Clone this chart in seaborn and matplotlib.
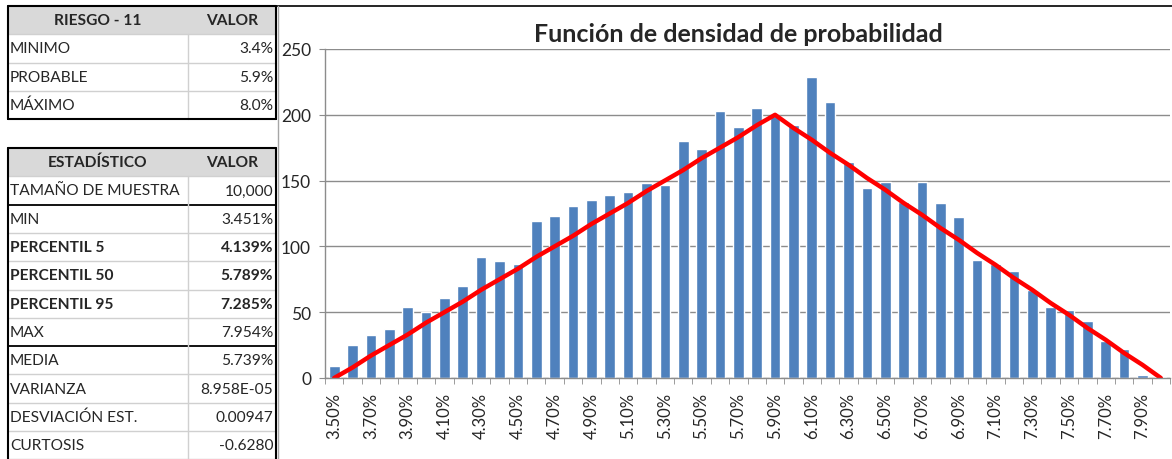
import numpy as np
import pandas as pd
import matplotlib
matplotlib.use("Agg")
import matplotlib.pyplot as plt
from matplotlib.lines import Line2D
from matplotlib.patches import Rectangle
import seaborn as sns

# histogram bins (percent) and simulated counts
bins = ["3.50%", "3.60%", "3.70%", "3.80%", "3.90%", "4.00%", "4.10%", "4.20%", "4.30%", "4.40%",
        "4.50%", "4.60%", "4.70%", "4.80%", "4.90%", "5.00%", "5.10%", "5.20%", "5.30%", "5.40%",
        "5.50%", "5.60%", "5.70%", "5.80%", "5.90%", "6.00%", "6.10%", "6.20%", "6.30%", "6.40%",
        "6.50%", "6.60%", "6.70%", "6.80%", "6.90%", "7.00%", "7.10%", "7.20%", "7.30%", "7.40%",
        "7.50%", "7.60%", "7.70%", "7.80%", "7.90%", "8.00%"]
counts = [9, 25, 33, 37, 54, 50, 61, 70, 92, 89,
          87, 119, 123, 131, 135, 139, 141, 148, 147, 180,
          174, 203, 191, 205, 199, 192, 229, 210, 164, 144,
          149, 134, 149, 133, 122, 90, 87, 81, 67, 54,
          52, 43, 28, 22, 2, 1]
# theoretical triangular curve
theory = [0, 8, 17, 25, 33, 42, 50, 58, 67, 75,
          83, 92, 100, 108, 117, 125, 133, 142, 150, 158,
          167, 175, 183, 192, 200, 190, 181, 171, 162, 152,
          143, 133, 124, 114, 105, 95, 86, 76, 67, 57,
          48, 38, 29, 19, 10, 0]

tbl1_head = ["RIESGO - 11", "VALOR"]
tbl1_rows = [("MINIMO", "3.4%"), ("PROBABLE", "5.9%"), ("MÁXIMO", "8.0%")]
tbl2_head = ["ESTADÍSTICO", "VALOR"]
tbl2_rows = [("TAMAÑO DE MUESTRA", "10,000"), ("MIN", "3.451%"), ("PERCENTIL 5", "4.139%"),
             ("PERCENTIL 50", "5.789%"), ("PERCENTIL 95", "7.285%"), ("MAX", "7.954%"),
             ("MEDIA", "5.739%"), ("VARIANZA", "8.958E-05"), ("DESVIACIÓN EST.", "0.00947"),
             ("CURTOSIS", "-0.6280")]
bold_rows = {"PERCENTIL 5", "PERCENTIL 50", "PERCENTIL 95"}

sns.set_style("white")
plt.rcParams["font.family"] = ["Lato", "DejaVu Sans"]

W, H = 1172, 460
fig = plt.figure(figsize=(W / 100, H / 100), dpi=100)

def fx(x):
    return x / W

def fy(y):
    return 1 - y / H

def hline(y, x0, x1, color, lw):
    fig.add_artist(Line2D([fx(x0), fx(x1)], [fy(y), fy(y)], color=color, lw=lw))

def vline(x, y0, y1, color, lw):
    fig.add_artist(Line2D([fx(x), fx(x)], [fy(y0), fy(y1)], color=color, lw=lw))

# ---- tables on the left
xl, xm, xr = 8, 188, 276
rh = 28.3
fs = 11.2

def draw_table(top, head, rows, black_after):
    # header
    fig.add_artist(Rectangle((fx(xl), fy(top + rh)), fx(xr - xl), rh / H, color="#d9d9d9", lw=0))
    fig.text(fx((xl + xm) / 2), fy(top + rh / 2), head[0], ha="center", va="center",
             fontsize=fs, fontweight="bold")
    fig.text(fx((xm + xr) / 2), fy(top + rh / 2), head[1], ha="center", va="center",
             fontsize=fs, fontweight="bold")
    y = top + rh
    for i, (lab, val) in enumerate(rows):
        w = "bold" if lab in bold_rows else "normal"
        fig.text(fx(xl + 2), fy(y + rh / 2), lab, ha="left", va="center", fontsize=fs, fontweight=w)
        fig.text(fx(xr - 3), fy(y + rh / 2), val, ha="right", va="center", fontsize=fs, fontweight=w)
        if i in black_after:
            hline(y + rh, xl, xr, "black", 1.3)
        else:
            hline(y + rh, xl, xr, "#d0d0d0", 1.0)
        y += rh
    vline(xm, top + rh, y, "#d0d0d0", 1.0)
    hline(top, xl, xr, "black", 1.5)
    hline(top + rh, xl, xr, "#d0d0d0", 1.0)
    vline(xl, top, y, "black", 1.5)
    vline(xr, top, y, "black", 1.5)
    return y

end1 = draw_table(7, tbl1_head, tbl1_rows, {2})
hline(end1, xl, xr, "black", 1.5)
draw_table(149, tbl2_head, tbl2_rows, {0, 5})

# ---- chart frame
hline(7, 277, W, "black", 1.2)
vline(278, 7, H, "#a6a6a6", 1.0)

# ---- histogram
ax = fig.add_axes([325 / W, 1 - 379 / H, 845 / W, 329 / H])
df = pd.DataFrame({"bin": bins, "count": counts, "theory": theory})
sns.barplot(data=df, x="bin", y="count", color="#4f81bd", width=0.58, saturation=1, ax=ax)
sns.lineplot(x=np.arange(len(bins)), y=df["theory"], color="#ff0000", lw=3.2, ax=ax)

ax.set_xlim(-0.5, len(bins) - 0.5)
ax.set_ylim(0, 250)
ax.set_yticks(range(0, 251, 50))
ax.yaxis.grid(True, color="#8c8c8c", lw=1.0)
ax.set_axisbelow(True)
ax.set_xlabel("")
ax.set_ylabel("")
for s in ["top", "right"]:
    ax.spines[s].set_visible(False)
for s in ["left", "bottom"]:
    ax.spines[s].set_color("#8c8c8c")
    ax.spines[s].set_linewidth(1.0)

pos = np.arange(len(bins))
ax.set_xticks(pos[::2])
ax.set_xticklabels(bins[::2], rotation=90, fontsize=12)
ax.set_xticks(np.arange(len(bins) + 1) - 0.5, minor=True)
ax.tick_params(axis="x", which="major", length=0, pad=10)
ax.tick_params(axis="x", which="minor", length=4, color="#8c8c8c", direction="out", bottom=True)
ax.tick_params(axis="y", length=4, color="#8c8c8c", direction="out", left=True, labelsize=12.5, pad=6)

fig.text(fx(738), fy(35), "Función de densidad de probabilidad", ha="center", va="center",
         fontsize=18, fontweight="bold")

fig.savefig("out.png", dpi=100)
